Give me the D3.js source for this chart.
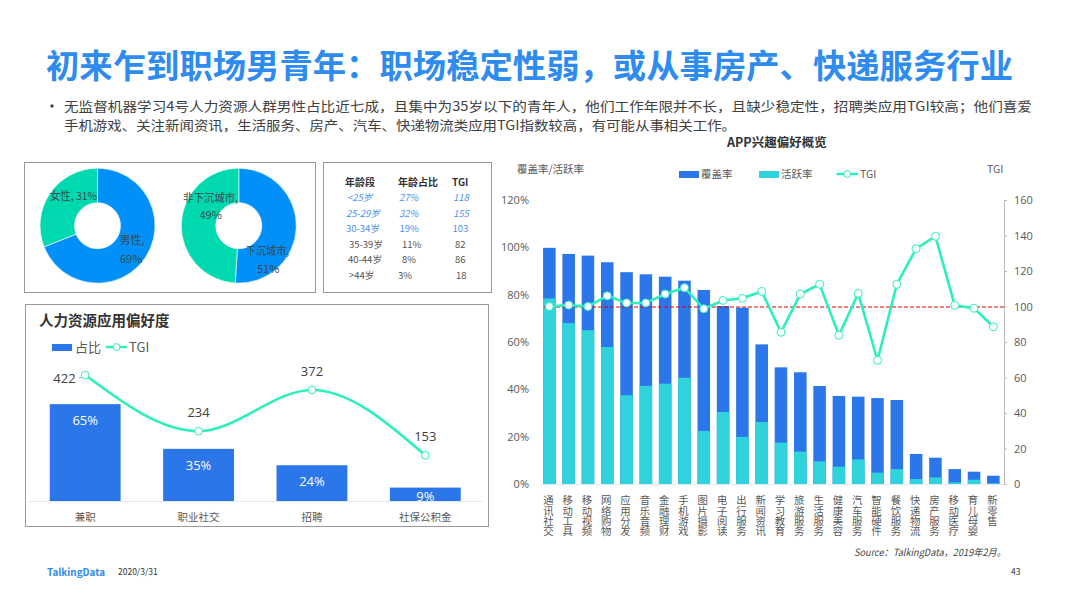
<!DOCTYPE html>
<html><head><meta charset="utf-8">
<script src="https://cdn.jsdelivr.net/npm/d3@7/dist/d3.min.js"></script>
<style>
html,body{margin:0;padding:0;background:#fff}
svg{display:block}
text{font-family:"Noto Sans CJK SC","Noto Sans",sans-serif}
.num{font-family:"Open Sans","Noto Sans CJK SC",sans-serif}
</style></head><body><svg id="c" width="1066" height="599"></svg>
<script>
const appCategories=["通讯社交","移动工具","移动视频","网络购物","应用分发","音乐音频","金融理财","手机游戏","图片摄影","电子阅读","出行服务","新闻资讯","学习教育","旅游服务","生活服务","健康美容","汽车服务","智能硬件","餐饮服务","快递物流","房产服务","移动医疗","育儿母婴","新零售"];
const coverage=[99.8,97.2,96.5,93.7,89.5,88.6,87.6,85.9,82,75.2,74.5,59,49.3,47.2,41.4,37.2,36.9,36.3,35.5,12.7,11.1,6.3,5.2,3.5];
const activity=[78.4,68,65,57.9,37.5,41.5,42.4,44.9,22.4,30.4,19.9,26.2,17.5,13.7,9.6,7.3,10.4,4.8,6.3,2.1,2.8,0.7,1.8,0.3];
const appTgi=[100,100.8,100,106,102,102,107,110.6,98.7,103.4,104.6,108.5,85.5,107,112.5,83.8,107.4,69.7,112.5,132.6,139.5,100.7,99,88.6];
const hrCategories=["兼职","职业社交","招聘","社保公积金"];
const hrShare=[65,35,24,9];
const hrTgi=[422,234,372,153];
const genderSlices=[["男性",69],["女性",31]];
const citySlices=[["下沉城市",51],["非下沉城市",49]];
const tableHeader=["年龄段","年龄占比","TGI"];
const tableRows=[["<25岁","27%","118"],["25-29岁","32%","155"],["30-34岁","19%","103"],["35-39岁","11%","82"],["40-44岁","8%","86"],[">44岁","3%","18"]];
const pctTicks=[0,20,40,60,80,100,120];
const tgiTicks=[0,20,40,60,80,100,120,140,160];

const svg=d3.select("#c");
const BLUE="#2B76E8",CYAN="#30D2DC",LINE="#2DEFBE",GREY="#595959";
function txt(x,y,s,o={}){
  const t=svg.append("text").attr("x",x).attr("y",y).attr("dominant-baseline","central").text(s)
   .attr("font-size",o.size||11).attr("fill",o.fill||GREY);
  if(o.anchor)t.attr("text-anchor",o.anchor);
  if(o.bold)t.attr("font-weight",700);
  if(o.italic)t.attr("font-style","italic");
  if(o.len)t.attr("textLength",o.len).attr("lengthAdjust","spacingAndGlyphs");
  return t;
}
// header
txt(46,64,"初来乍到职场男青年：职场稳定性弱，或从事房产、快递服务行业",{size:33,bold:true,fill:"#2E8BEF",len:967});
svg.append("circle").attr("cx",52).attr("cy",106).attr("r",1.7).attr("fill","#444");
txt(64,105.5,"无监督机器学习4号人力资源人群男性占比近七成，且集中为35岁以下的青年人，他们工作年限并不长，且缺少稳定性，招聘类应用TGI较高；他们喜爱",{size:13,fill:"#404040",len:968});
txt(64,124.5,"手机游戏、关注新闻资讯，生活服务、房产、汽车、快递物流类应用TGI指数较高，有可能从事相关工作。",{size:13,fill:"#404040",len:672});

// frames
[[24.5,162.5,291,130],[323.5,162.5,168,130],[25.5,304.5,463,222]].forEach(b=>
 svg.append("rect").attr("x",b[0]).attr("y",b[1]).attr("width",b[2]).attr("height",b[3]).attr("fill","none").attr("stroke","#999").attr("stroke-width",1));

// donuts
const pie=d3.pie().sort(null).value(d=>d[1]);
const arc=d3.arc().innerRadius(23).outerRadius(57.5);
function donut(cx,cy,data){
  const g=svg.append("g").attr("transform",`translate(${cx},${cy})`);
  g.selectAll("path").data(pie(data)).join("path").attr("d",arc)
   .attr("fill",(d,i)=>i?"#00D8B0":"#0090F8").attr("stroke","#fff").attr("stroke-width",.6);
}
donut(97.5,225.7,genderSlices);
donut(238.8,225.7,citySlices);
const L={size:11,fill:"#3c4a50"};
txt(50,194.5,"女性, 31%",{...L,len:47});
txt(119.5,239,"男性,",L);
txt(120,257.5,"69%",L);
txt(183,196.5,"非下沉城市,",{...L,len:55});
txt(199.5,213.5,"49%",L);
txt(246,249.5,"下沉城市,",{...L,len:43});
txt(257,267.5,"51%",L);

// table
const hx=[345,398,452],colX=[[347,399,453],[346,399,453],[346,399.5,452.5],[349,402,455],[348,402,455],[349,398,456]];
tableHeader.forEach((s,i)=>txt(hx[i],181,s,{size:10,bold:true,fill:"#333"}));
tableRows.forEach((r,i)=>r.forEach((s,j)=>txt(colX[i][j],197+i*15.6,s,{size:9.5,fill:i<3?"#4A90F0":"#555",italic:i<2})));

// HR chart
txt(39,319.5,"人力资源应用偏好度",{size:14.5,bold:true,fill:"#333"});
svg.append("rect").attr("x",52).attr("y",344).attr("width",20).attr("height",7).attr("fill",BLUE);
txt(75,346.5,"占比",{size:13});
function legendLine(x1,x2,y){
  svg.append("line").attr("x1",x1).attr("x2",x2).attr("y1",y).attr("y2",y).attr("stroke",LINE).attr("stroke-width",2.4);
  svg.append("circle").attr("cx",(x1+x2)/2).attr("cy",y).attr("r",3.4).attr("fill","#fff").attr("stroke",LINE);
}
legendLine(106,127,347);
txt(129,346.5,"TGI",{size:13});
const hx0=d3.scaleBand().domain(hrCategories).range([28.5,482]).paddingInner(.375).paddingOuter(.1875);
const hy=d3.scaleLinear().domain([0,100]).range([501,352]);
const hyT=d3.scaleLinear().domain([0,500]).range([501,351.75]);
svg.append("g").selectAll("rect").data(hrCategories).join("rect")
 .attr("x",d=>hx0(d)).attr("width",hx0.bandwidth())
 .attr("y",(d,i)=>hy(hrShare[i])).attr("height",(d,i)=>501-hy(hrShare[i])).attr("fill",BLUE);
const hAxis=svg.append("g").attr("transform","translate(0,501)").call(d3.axisBottom(hx0).tickSize(0).tickPadding(13));
hAxis.select(".domain").attr("stroke","#E4E7EC");
hAxis.selectAll("text").attr("font-size",10.5).attr("fill",GREY).style("font-family",'"Noto Sans CJK SC"');
const hc=d=>hx0(d)+hx0.bandwidth()/2;
const hline=d3.line().x(d=>hc(d)).y((d,i)=>hyT(hrTgi[i])).curve(d3.curveMonotoneX);
svg.append("path").attr("d",hline(hrCategories)).attr("fill","none").attr("stroke",LINE).attr("stroke-width",2.6);
svg.append("line").attr("x1",79).attr("x2",83).attr("y1",378).attr("y2",377).attr("stroke","#aaa");
hrCategories.forEach((c,i)=>{
  svg.append("circle").attr("cx",hc(c)).attr("cy",hyT(hrTgi[i])).attr("r",3.8).attr("fill","#fff").attr("stroke",LINE);
  if(i==0) txt(64.5,378,hrTgi[i],{size:13,anchor:"middle",fill:"#404040"}).attr("class","num");
  else txt(hc(c),hyT(hrTgi[i])-19,hrTgi[i],{size:13,anchor:"middle",fill:"#404040"}).attr("class","num");
  txt(hc(c),Math.min(hy(hrShare[i])+16,496),hrShare[i]+"%",{size:13,anchor:"middle",fill:"#fff"}).attr("class","num");
});

// APP chart
txt(727,141,"APP兴趣偏好概览",{size:12.5,bold:true,fill:"#333"});
txt(517,168.5,"覆盖率/活跃率",{size:10.5});
txt(987,168,"TGI",{size:10.5});
svg.append("rect").attr("x",679).attr("y",171).attr("width",20).attr("height",7).attr("fill",BLUE);
txt(701,173.5,"覆盖率",{size:10.5});
svg.append("rect").attr("x",759).attr("y",171).attr("width",20).attr("height",7).attr("fill",CYAN);
txt(781,173.5,"活跃率",{size:10.5});
legendLine(836.5,858,174);
txt(860,173.5,"TGI",{size:10.5});

const x=d3.scaleBand().domain(appCategories).range([539.7,1003]).paddingInner(.35).paddingOuter(.175);
const y=d3.scaleLinear().domain([0,120]).range([484,200]);
const yT=d3.scaleLinear().domain([0,160]).range([484,200]);
const cx=d=>x(d)+x.bandwidth()/2;
[[coverage,BLUE],[activity,CYAN]].forEach(([vals,col])=>
 svg.append("g").selectAll("rect").data(appCategories).join("rect")
  .attr("x",d=>x(d)).attr("width",x.bandwidth())
  .attr("y",(d,i)=>y(vals[i])).attr("height",(d,i)=>484-y(vals[i])).attr("fill",col));
const bx=svg.append("g").attr("transform","translate(0,484)").call(d3.axisBottom(x).tickSize(0));
bx.select(".domain").attr("stroke","#E4E7EC");
bx.selectAll(".tick text").attr("dy",null).attr("x",-1).attr("y",11).attr("text-anchor","start")
  .attr("font-size",10.4).attr("fill",GREY).style("font-family",'"Noto Sans CJK SC"')
  .style("writing-mode","vertical-rl").style("text-orientation","upright");
const ax=svg.append("g").attr("transform","translate(539,0)").call(d3.axisLeft(y).tickValues(pctTicks).tickSize(0).tickPadding(10).tickFormat(d=>d+"%"));
ax.select(".domain").remove();
ax.selectAll("text").attr("font-size",11).attr("fill",GREY).attr("class","num");
const ar=svg.append("g").attr("transform","translate(1004,0)").call(d3.axisRight(yT).tickValues(tgiTicks).tickSize(3).tickPadding(7));
ar.selectAll("path,line").attr("stroke","#bbb");
ar.selectAll("text").attr("font-size",11).attr("fill",GREY).attr("class","num");

svg.append("line").attr("x1",544).attr("x2",1004).attr("y1",yT(100)+.5).attr("y2",yT(100)+.5).attr("stroke","#e00000").attr("stroke-width",1).attr("stroke-dasharray","4 2");
const tline=d3.line().x(d=>cx(d)).y((d,i)=>yT(appTgi[i]));
svg.append("path").attr("d",tline(appCategories)).attr("fill","none").attr("stroke",LINE).attr("stroke-width",2.6);
svg.append("g").selectAll("circle").data(appCategories).join("circle")
 .attr("cx",cx).attr("cy",(d,i)=>yT(appTgi[i])).attr("r",4).attr("fill","#fff").attr("stroke",LINE);

// footer
txt(854,551.5,"Source：TalkingData，2019年2月。",{size:10,italic:true,fill:"#444",len:152});
txt(47,571,"TalkingData",{size:10.5,bold:true,fill:"#2E8BEF",len:58});
txt(118,571,"2020/3/31",{size:8.5,fill:"#333"});
txt(1011,571,"43",{size:8.5,fill:"#333"});
</script></body></html>
